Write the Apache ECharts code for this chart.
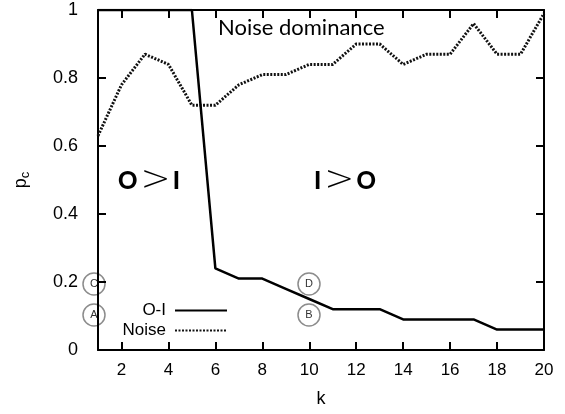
<!DOCTYPE html>
<html>
<head>
<meta charset="utf-8">
<script src="https://cdn.jsdelivr.net/npm/echarts@6/dist/echarts.min.js"></script>
<style>
  html, body { margin: 0; padding: 0; background: #fff; }
  #chart { width: 565px; height: 414px; }
</style>
</head>
<body>
<div id="chart"></div>
<script>
// k values and p_c for each curve
var ks = [1, 2, 3, 4, 5, 6, 7, 8, 9, 10, 11, 12, 13, 14, 15, 16, 17, 18, 19, 20];
var oiValues = [1, 1, 1, 1, 1, 0.24, 0.21, 0.21, 0.18, 0.15, 0.12, 0.12, 0.12, 0.09, 0.09, 0.09, 0.09, 0.06, 0.06, 0.06];
var noiseValues = [0.63, 0.78, 0.87, 0.84, 0.72, 0.72, 0.78, 0.81, 0.81, 0.84, 0.84, 0.90, 0.90, 0.84, 0.87, 0.87, 0.96, 0.87, 0.87, 0.99];
var xTicks = [2, 4, 6, 8, 10, 12, 14, 16, 18, 20];

var labelFont = 'Liberation Sans';
var noteFont = 'Lato';

function pairs(vals) {
  return ks.map(function (k, i) { return [k, vals[i]]; });
}

// small circled letters
function marker(letter, x, y) {
  return {
    type: 'group', x: x, y: y, z: 100,
    children: [
      { type: 'circle', shape: { cx: 0, cy: 0, r: 11 },
        style: { fill: 'rgba(255,255,255,0)', stroke: '#8c8c8c', lineWidth: 1.5 } },
      { type: 'text', style: { text: letter, x: 0, y: 0, align: 'center', verticalAlign: 'middle',
        font: '11px "' + labelFont + '"', fill: '#333' } }
    ]
  };
}

// "O>I" style region labels, thin wide ">" between bold letters
var regionRich = {
  b: { fontFamily: noteFont, fontWeight: 900, fontSize: 24, color: '#000' },
  g: { fontFamily: 'DejaVu Sans', fontWeight: 200, fontSize: 36, color: '#000', padding: [0, 2, 0, 3] }
};

var legendText = { fontFamily: labelFont, fontSize: 17, color: '#000', padding: [0, 4, 0, 0] };
var legendItem = { color: 'rgba(0,0,0,0)', borderWidth: 0, opacity: 0 };

var myChart = echarts.init(document.getElementById('chart'));
var option = {
  animation: false,
  backgroundColor: '#fff',
  grid: { left: 98, right: 21, top: 10, bottom: 64, show: false },
  legend: [
    {
      data: ['O-I'], right: 337, top: 302, orient: 'vertical', align: 'right',
      itemWidth: 52, itemHeight: 14, itemGap: 0, padding: 0,
      itemStyle: legendItem, textStyle: legendText
    },
    {
      data: ['Noise'], right: 337, top: 322, orient: 'vertical', align: 'right',
      itemWidth: 52, itemHeight: 14, itemGap: 0, padding: 0,
      itemStyle: legendItem, textStyle: legendText
    }
  ],
  xAxis: [
    {
      type: 'value', min: 1, max: 20, position: 'bottom',
      name: 'k', nameLocation: 'middle', nameGap: 40,
      nameTextStyle: { fontFamily: labelFont, fontSize: 18, color: '#000' },
      axisLine: { show: true, onZero: false, lineStyle: { color: '#000', width: 2 } },
      axisTick: { show: true, inside: true, length: 8, customValues: xTicks, lineStyle: { color: '#000', width: 2 } },
      axisLabel: { show: true, margin: 12, customValues: xTicks, fontFamily: labelFont, fontSize: 17, color: '#000' },
      splitLine: { show: false }
    },
    {
      type: 'value', min: 1, max: 20, position: 'top',
      axisLine: { show: true, onZero: false, lineStyle: { color: '#000', width: 2 } },
      axisTick: { show: true, inside: true, length: 8, customValues: xTicks, lineStyle: { color: '#000', width: 2 } },
      axisLabel: { show: false },
      splitLine: { show: false }
    }
  ],
  yAxis: [
    {
      type: 'value', min: 0, max: 1, interval: 0.2, position: 'left',
      name: '{p|p}{c|c}', nameLocation: 'middle', nameGap: 66, nameRotate: 90,
      nameTextStyle: {
        fontFamily: labelFont, color: '#000',
        rich: {
          p: { fontFamily: labelFont, fontSize: 18, color: '#000' },
          c: { fontFamily: labelFont, fontSize: 13, color: '#000', padding: [8, 0, 0, 0] }
        }
      },
      axisLine: { show: true, onZero: false, lineStyle: { color: '#000', width: 2 } },
      axisTick: { show: true, inside: true, length: 8, lineStyle: { color: '#000', width: 2 } },
      axisLabel: { show: true, margin: 20, fontFamily: labelFont, fontSize: 18, color: '#000' },
      splitLine: { show: false }
    },
    {
      type: 'value', min: 0, max: 1, interval: 0.2, position: 'right',
      axisLine: { show: true, onZero: false, lineStyle: { color: '#000', width: 2 } },
      axisTick: { show: true, inside: true, length: 8, lineStyle: { color: '#000', width: 2 } },
      axisLabel: { show: false },
      splitLine: { show: false }
    }
  ],
  series: [
    {
      name: 'O-I', type: 'line', data: pairs(oiValues),
      symbol: 'none', color: '#000',
      lineStyle: { color: '#000', width: 2.5 },
      z: 3
    },
    {
      name: 'Noise', type: 'line', data: pairs(noiseValues),
      symbol: 'none', color: '#000',
      lineStyle: { color: '#111', width: 3, type: [2, 1.5] },
      z: 2
    }
  ],
  graphic: [
    { type: 'text', left: 218, top: 17, z: 100,
      style: { text: 'Noise dominance', font: '22px "' + noteFont + '"', fill: '#000' } },
    { type: 'text', left: 118, top: 163, z: 100,
      style: { text: '{b|O}{g|>}{b|I}', rich: regionRich } },
    { type: 'text', left: 314, top: 163, z: 100,
      style: { text: '{b|I}{g|>}{b|O}', rich: regionRich } },
    marker('C', 94, 284),
    marker('A', 94, 315),
    marker('D', 309, 284),
    marker('B', 309, 315)
  ]
};
myChart.setOption(option);
</script>
</body>
</html>
